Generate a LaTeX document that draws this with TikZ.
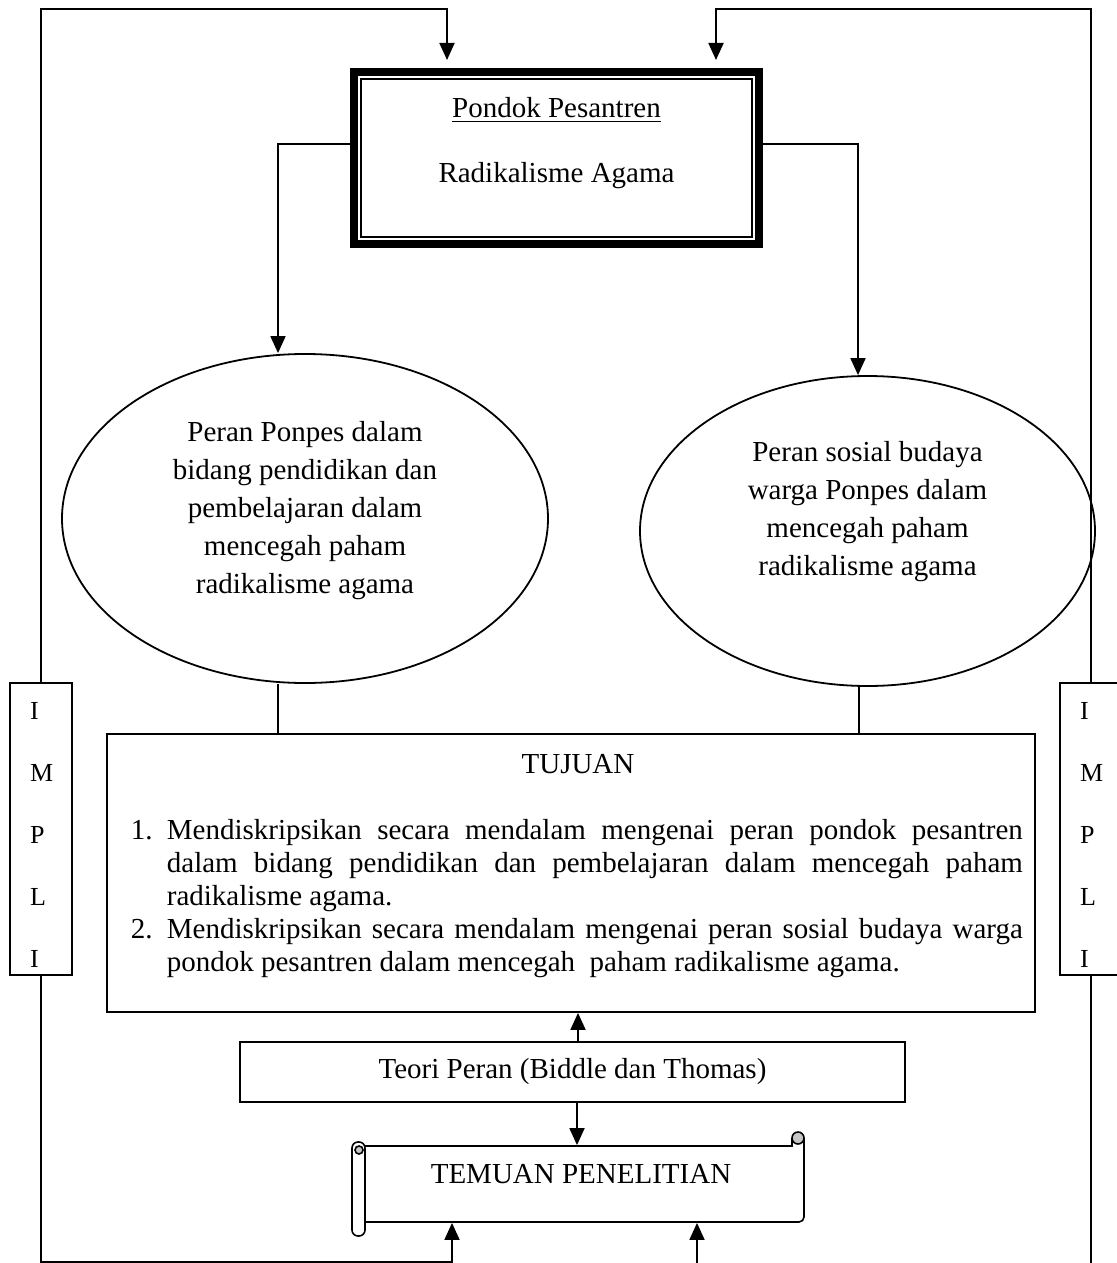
\documentclass[tikz,border=0pt]{standalone}
\usepackage{fontspec}
\setmainfont{Liberation Serif}
\usetikzlibrary{shapes.geometric,arrows.meta}
\newcommand{\px}{0.5pt}

\begin{document}
\begin{tikzpicture}[x=\px, y=-\px, line width=0.9pt,
    font=\fontsize{14.5pt}{17pt}\selectfont,
    kotak/.style={draw, rectangle, inner sep=0pt},
    elips/.style={draw, ellipse, inner sep=0pt, align=center, font=\fontsize{14.5pt}{19pt}\selectfont},
    impli/.style={draw, rectangle, inner xsep=10pt, inner ysep=0pt, text width=11pt, align=left, minimum width=62*\px, minimum height=292*\px, font=\fontsize{13pt}{31pt}\selectfont},
    panah/.style={-{Triangle[width=7.5pt,length=8.5pt]}}]

    \useasboundingbox (0,0) rectangle (1117,1263);
    \clip (0,0) rectangle (1117,1263);

    % Kotak atas
    \node[kotak, line width=4pt, minimum width=405*\px, minimum height=172*\px] (pondok) at (556.5,158) {};
    \draw[line width=0.8pt] ([shift={(11,11)}]pondok.north west) rectangle ([shift={(-11,-11)}]pondok.south east);
    \node[anchor=base] (pondokjudul) at (556.5,118) {\underline{Pondok Pesantren}};
    \node[anchor=base] (pondokisi) at (556.5,183) {Radikalisme Agama};

    % Elips
    \node[elips, text depth=11pt, minimum width=486*\px, minimum height=329*\px] (peranpendidikan) at (305,518.5) {Peran Ponpes dalam\\bidang pendidikan dan\\pembelajaran dalam\\mencegah paham\\radikalisme agama};
    \node[elips, text depth=23pt, minimum width=455*\px, minimum height=310*\px] (peransosial) at (867.5,531) {Peran sosial budaya\\warga Ponpes dalam\\mencegah paham\\radikalisme agama};

    % Tujuan
    \node[kotak, minimum width=928*\px, minimum height=278*\px] (tujuan) at (571,873) {};
    \node[anchor=base] (tujuanjudul) at (578,773) {TUJUAN};
    \node[anchor=north west, inner sep=0pt, text width=446pt, align=justify, font=\fontsize{14.5pt}{16.5pt}\selectfont] (tujuanisi) at (130,818) {%
        \hangindent=18pt\hangafter=1\noindent\hbox to 18pt{1.\hfil}Mendiskripsikan secara mendalam mengenai peran pondok pesantren\linebreak dalam bidang pendidikan dan pembelajaran dalam mencegah paham\linebreak radikalisme agama.\par
        \hangindent=18pt\hangafter=1\noindent\hbox to 18pt{2.\hfil}Mendiskripsikan secara mendalam mengenai peran sosial budaya warga\linebreak pondok pesantren dalam mencegah\ \ paham radikalisme agama.\par};

    % Implikasi
    \node[impli, text height=14pt] (implikiri) at (41,829) {I\\M\\P\\L\\I};
    \node[impli, text height=14pt] (implikanan) at (1091,829) {I\\M\\P\\L\\I};

    % Teori dan temuan
    \node[kotak, minimum width=665*\px, minimum height=60*\px] (teori) at (572.5,1072) {Teori Peran (Biddle dan Thomas)};
    \node[minimum width=439*\px, minimum height=76*\px, inner sep=0pt] (temuan) at (584.5,1184) {};
    \draw[line width=0.8pt, rounded corners=2.5pt] (365,1222) -- (804,1222) -- (804,1138);
    \draw[line width=0.8pt] (365,1146) -- (792,1146) -- (792,1138);
    \draw[line width=0.8pt, fill=gray!45] (798,1138) circle (3pt);
    \draw[line width=0.8pt, fill=white, rounded corners=3pt] (352,1142) rectangle (365,1236);
    \draw[line width=0.8pt, fill=gray!45] (359,1150) circle (2pt);
    \node[anchor=base] (temuanteks) at (581,1183) {TEMUAN PENELITIAN};

    % Titik bantu
    \coordinate (ataskiri) at (447,9);
    \coordinate (ataskanan) at (716,9);
    \coordinate (bawahkiri) at (452,1262);
    \coordinate (bawahkanan) at (697,1263);
    \coordinate (garispendidikan) at ([xshift=-13.5pt]peranpendidikan.north);
    \coordinate (garissosial) at ([xshift=-4.75pt]peransosial.north);
    \coordinate (bawahpendidikan) at ([xshift=-13.5pt]peranpendidikan.south);
    \coordinate (bawahsosial) at ([xshift=-4.25pt]peransosial.south);
    \coordinate (teoriatas) at ([xshift=2.75pt]teori.north);
    \coordinate (teoribawah) at ([xshift=2.25pt]teori.south);

    % Panah
    \draw[panah, shorten >=4pt] (implikiri.north) |- (ataskiri) -- (ataskiri |- pondok.north);
    \draw[panah, shorten >=4pt] (implikanan.north) |- (ataskanan) -- (ataskanan |- pondok.north);
    \draw[panah] ([yshift=7pt]pondok.west) -| (garispendidikan);
    \draw[panah] ([yshift=7pt]pondok.east) -| (garissosial);
    \draw (bawahpendidikan) -- (bawahpendidikan |- tujuan.north);
    \draw (bawahsosial) -- (bawahsosial |- tujuan.north);
    \draw[panah] (teoriatas) -- (teoriatas |- tujuan.south);
    \draw[panah] (teoribawah) -- (teoribawah |- temuan.north);
    \draw[panah] (implikiri.south) |- (bawahkiri) -- (bawahkiri |- temuan.south);
    \draw[panah] (bawahkanan) -- (bawahkanan |- temuan.south);
    \draw (implikanan.south) -- (implikanan.south |- bawahkanan);

\end{tikzpicture}
\end{document}
